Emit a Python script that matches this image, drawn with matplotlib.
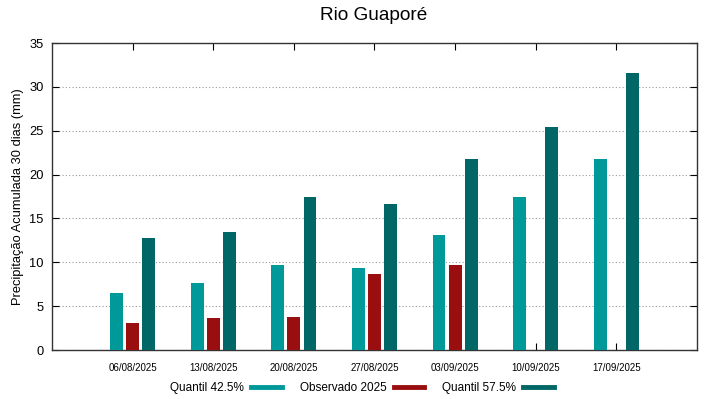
import matplotlib
matplotlib.use("Agg")
import numpy as np
import matplotlib.pyplot as plt
from matplotlib.lines import Line2D

plt.rcParams['font.family'] = ['Liberation Sans', 'DejaVu Sans']

# dados
datas = ['06/08/2025', '13/08/2025', '20/08/2025', '27/08/2025',
         '03/09/2025', '10/09/2025', '17/09/2025']
quantil_425 = [6.5, 7.6, 9.7, 9.3, 13.15, 17.5, 21.8]
observado = [3.1, 3.7, 3.8, 8.7, 9.7, np.nan, np.nan]
quantil_575 = [12.8, 13.5, 17.5, 16.6, 21.8, 25.4, 31.6]

cor_q1 = '#009999'
cor_obs = '#990f0f'
cor_q2 = '#006666'

x = np.arange(len(datas))
w = 0.16

fig = plt.figure(figsize=(7.19, 3.99), dpi=100)
ax = fig.add_axes([0.0723, 0.1228, 0.8971, 0.7694])

ax.bar(x - 0.2, quantil_425, width=w, color=cor_q1, zorder=3)
ax.bar(x, observado, width=w, color=cor_obs, zorder=3)
ax.bar(x + 0.2, quantil_575, width=w, color=cor_q2, zorder=3)

ax.set_xlim(-1, 7)
ax.set_ylim(0, 35)
ax.set_xticks(x)
ax.set_xticklabels(datas, fontsize=7)
ax.set_yticks(np.arange(0, 36, 5))
ax.tick_params(axis='y', labelsize=9.3, direction='in', length=5, right=True, pad=6)
ax.tick_params(axis='x', direction='in', length=5, top=True, pad=9)
ax.grid(axis='y', linestyle=(0, (1, 2)), color='#999999', linewidth=0.8)
for s in ax.spines.values():
    s.set_color('#333333')
    s.set_linewidth(1.0)

ax.set_ylabel('Precipitação Acumulada 30 dias (mm)', fontsize=9.3, labelpad=4)
fig.text(374 / 719, 1 - 15 / 399, 'Rio Guaporé', fontsize=13.7,
         ha='center', va='center')

handles = [Line2D([], [], color=c, linewidth=3.5) for c in (cor_q1, cor_obs, cor_q2)]
fig.legend(handles, ['Quantil 42.5%', 'Observado 2025', 'Quantil 57.5%'],
           loc='center', bbox_to_anchor=(362 / 719, 1 - 388 / 399), ncol=3,
           frameon=False, markerfirst=False, fontsize=8.5, handlelength=2.6,
           handletextpad=0.6, columnspacing=1.5, borderaxespad=0, borderpad=0)

fig.savefig('out.png', dpi=100)
